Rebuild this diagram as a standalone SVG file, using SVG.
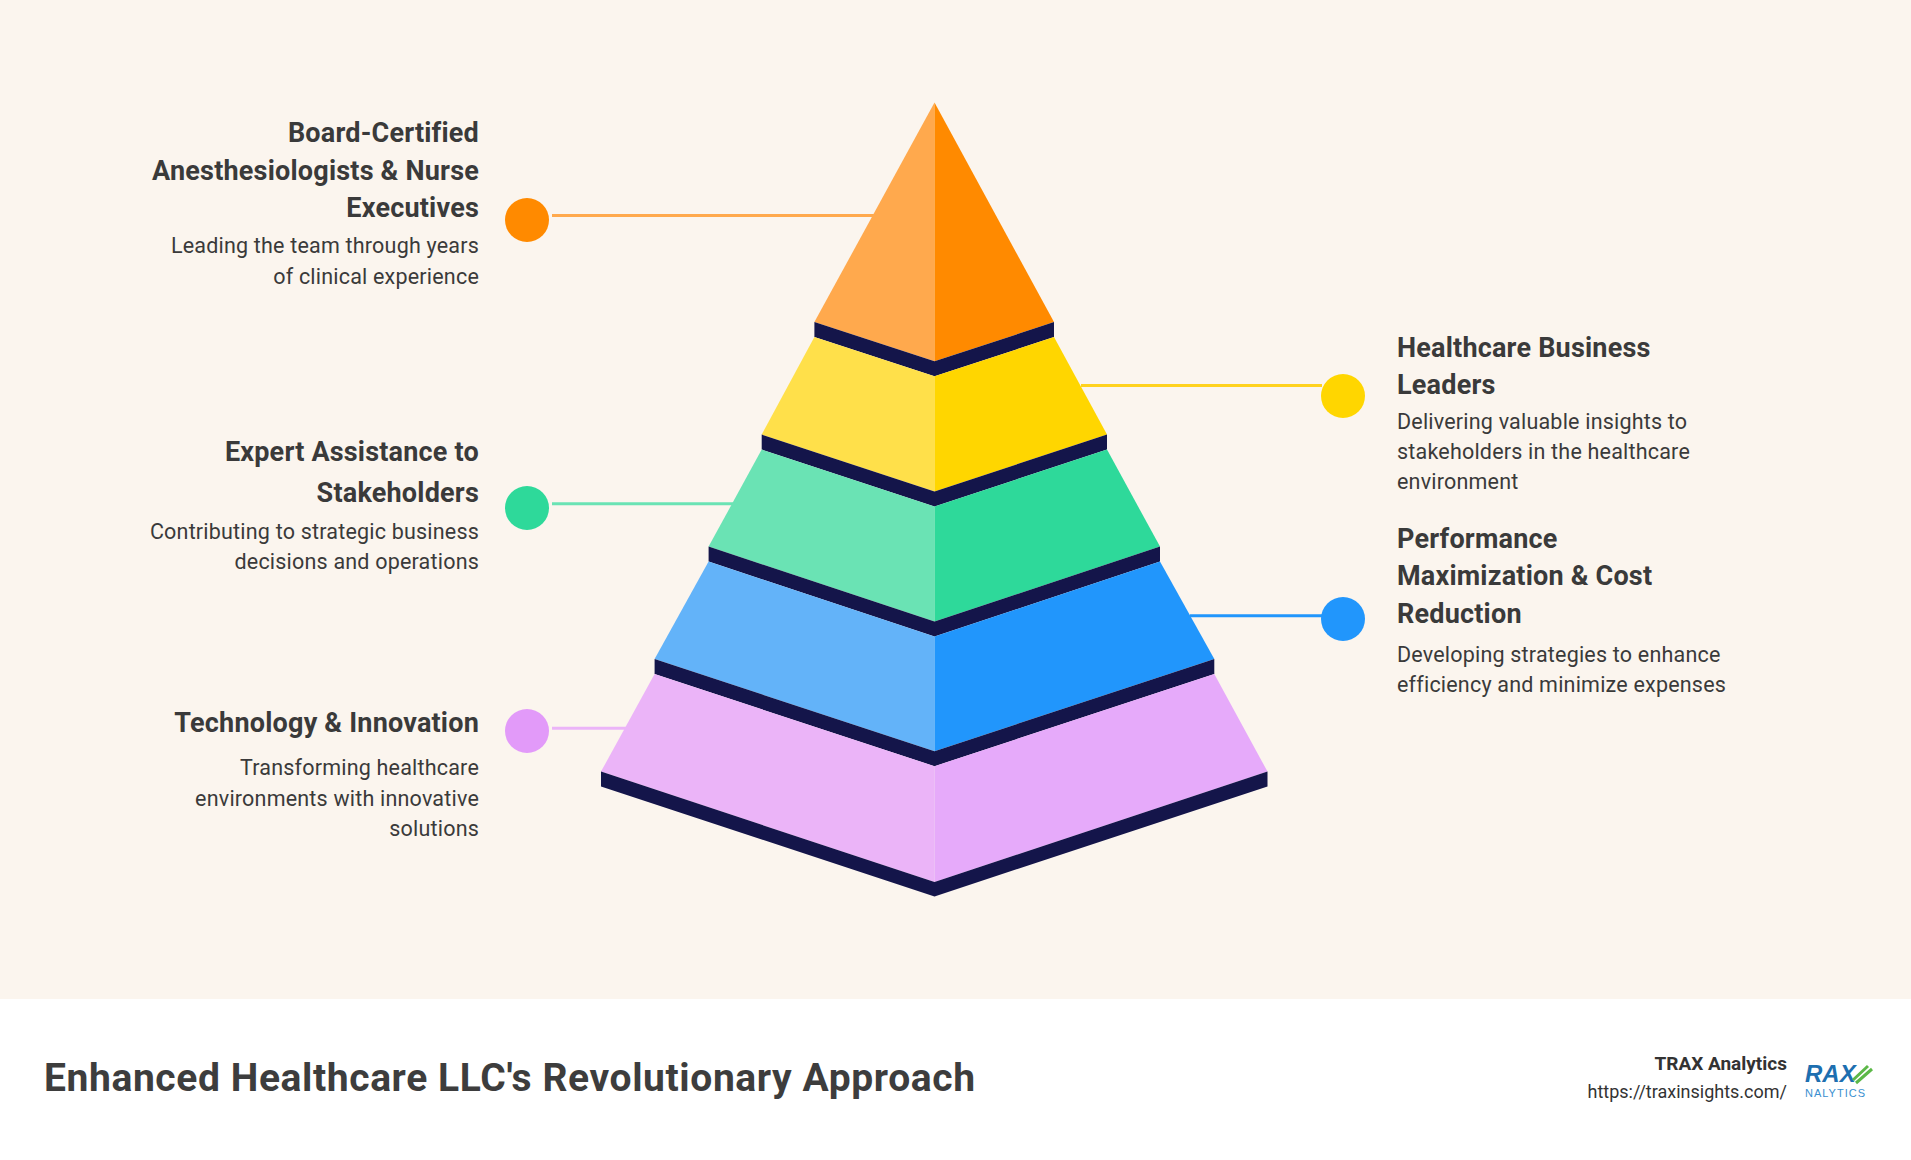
<svg xmlns="http://www.w3.org/2000/svg" width="1911" height="1160" viewBox="0 0 1911 1160">
<style>
.t{font-family:Roboto,"Liberation Sans",sans-serif;font-weight:700;font-size:27px;fill:#3a3a3a;letter-spacing:0.2px}
.d{font-family:Roboto,"Liberation Sans",sans-serif;font-size:21.5px;fill:#3a3a3a;letter-spacing:0.2px}
.r{text-anchor:end}
.band{fill:#14154a}
</style>
<rect width="1911" height="1160" fill="#fbf5ee"/>
<rect y="999" width="1911" height="161" fill="#ffffff"/>
<g id="connectors" stroke-width="3">
<line x1="552" y1="215.5" x2="879" y2="215.5" stroke="#ffa94d"/>
<line x1="1081" y1="385.4" x2="1322" y2="385.4" stroke="#ffd21f"/>
<line x1="552" y1="503.7" x2="739" y2="503.7" stroke="#6ae3b4"/>
<line x1="1190" y1="615.7" x2="1322" y2="615.7" stroke="#2196fc"/>
<line x1="552" y1="728.2" x2="630" y2="728.2" stroke="#ebb4f8"/>
</g>
<g id="pyramid">
<polygon points="934.5,102.5 814.4,322.1 934.5,361.2" fill="#ffa94d"/>
<polygon points="934.5,102.5 1054,322.1 934.5,361.2" fill="#ff8a00"/>
<polygon class="band" points="814.4,322.1 934.5,361.2 1054,322.1 1054,337.1 934.5,376.2 814.4,337.1"/>
<polygon points="814.4,337.1 934.5,376.2 934.5,491.4 761.7,434.6" fill="#ffe04a"/>
<polygon points="1054,337.1 934.5,376.2 934.5,491.4 1107,434.6" fill="#ffd600"/>
<polygon class="band" points="761.7,434.6 934.5,491.4 1107,434.6 1107,449.6 934.5,506.4 761.7,449.6"/>
<polygon points="761.7,449.6 934.5,506.4 934.5,621.6 708.6,546.6" fill="#6ae3b4"/>
<polygon points="1107,449.6 934.5,506.4 934.5,621.6 1160,546.6" fill="#2ed99a"/>
<polygon class="band" points="708.6,546.6 934.5,621.6 1160,546.6 1160,561.6 934.5,636.6 708.6,561.6"/>
<polygon points="708.6,561.6 934.5,636.6 934.5,751.2 654.6,659.1" fill="#63b3f9"/>
<polygon points="1160,561.6 934.5,636.6 934.5,751.2 1214.3,659.1" fill="#2196fc"/>
<polygon class="band" points="654.6,659.1 934.5,751.2 1214.3,659.1 1214.3,674.1 934.5,766.2 654.6,674.1"/>
<polygon points="654.6,674.1 934.5,766.2 934.5,882 601,771.6" fill="#ebb4f8"/>
<polygon points="1214.3,674.1 934.5,766.2 934.5,882 1267.5,771.6" fill="#e6aafa"/>
<polygon class="band" points="601,771.6 934.5,882 1267.5,771.6 1267.5,786.6 934.5,896.4 601,786.6"/>
</g>
<g id="node1">
<circle cx="527" cy="220" r="22" fill="#ff8a00"/>
<text class="t r" x="479" y="142">Board-Certified</text>
<text class="t r" x="479" y="180">Anesthesiologists &amp; Nurse</text>
<text class="t r" x="479" y="217">Executives</text>
<text class="d r" x="479" y="253">Leading the team through years</text>
<text class="d r" x="479" y="284">of clinical experience</text>
</g>
<g id="node2">
<circle cx="1343" cy="396" r="22" fill="#ffd600"/>
<text class="t" x="1397" y="357">Healthcare Business</text>
<text class="t" x="1397" y="394">Leaders</text>
<text class="d" x="1397" y="429">Delivering valuable insights to</text>
<text class="d" x="1397" y="459">stakeholders in the healthcare</text>
<text class="d" x="1397" y="489">environment</text>
</g>
<g id="node3">
<circle cx="527" cy="508" r="22" fill="#2ed99a"/>
<text class="t r" x="479" y="461">Expert Assistance to</text>
<text class="t r" x="479" y="502">Stakeholders</text>
<text class="d r" x="479" y="539">Contributing to strategic business</text>
<text class="d r" x="479" y="569">decisions and operations</text>
</g>
<g id="node4">
<circle cx="1343" cy="619" r="22" fill="#2196fc"/>
<text class="t" x="1397" y="548">Performance</text>
<text class="t" x="1397" y="585">Maximization &amp; Cost</text>
<text class="t" x="1397" y="623">Reduction</text>
<text class="d" x="1397" y="662">Developing strategies to enhance</text>
<text class="d" x="1397" y="692">efficiency and minimize expenses</text>
</g>
<g id="node5">
<circle cx="527" cy="731" r="22" fill="#e29af9"/>
<text class="t r" x="479" y="732">Technology &amp; Innovation</text>
<text class="d r" x="479" y="775">Transforming healthcare</text>
<text class="d r" x="479" y="806">environments with innovative</text>
<text class="d r" x="479" y="836">solutions</text>
</g>
<g id="footer">
<text x="44" y="1091" style="font-family:Roboto,'Liberation Sans',sans-serif;font-weight:700;font-size:39px;fill:#3d3d3d;letter-spacing:0.6px">Enhanced Healthcare LLC's Revolutionary Approach</text>
<text x="1787" y="1070" text-anchor="end" style="font-family:Roboto,'Liberation Sans',sans-serif;font-weight:700;font-size:19px;fill:#333">TRAX Analytics</text>
<text x="1787" y="1098" text-anchor="end" style="font-family:Roboto,'Liberation Sans',sans-serif;font-size:18px;fill:#333">https://traxinsights.com/</text>
<text x="1805" y="1082" style="font-family:'Liberation Sans',sans-serif;font-weight:700;font-style:italic;font-size:24px;fill:#1d6fb0">RAX</text>
<path d="M1853,1080 L1868,1066 M1856,1083 L1872,1069" stroke="#5cb848" stroke-width="3" fill="none"/>
<text x="1805" y="1097" style="font-family:'Liberation Sans',sans-serif;font-size:11px;fill:#3a8fd0;letter-spacing:1px">NALYTICS</text>
</g>
</svg>
